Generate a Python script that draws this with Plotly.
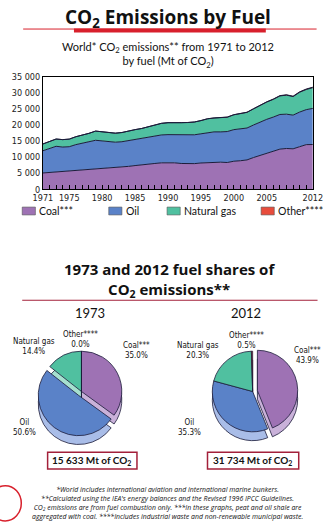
import plotly.graph_objects as go

# ---------------- data ----------------
years = list(range(1971, 2013))
coal = [5100, 5250, 5470, 5450, 5650, 5850, 6000, 6150, 6400, 6550,
        6600, 6700, 6900, 7150, 7400, 7550, 7800, 8050, 8250, 8350,
        8250, 8050, 8000, 8000, 8200, 8350, 8500, 8450, 8350, 8750,
        8900, 9150, 9900, 10550, 11200, 11800, 12500, 12700, 12600, 13250,
        13900, 13930]
oil = [6900, 7450, 7910, 7700, 7600, 8050, 8300, 8650, 8850, 8500,
       8150, 7950, 7900, 8000, 8000, 8150, 8300, 8550, 8650, 8650,
       8750, 8800, 8850, 8950, 9050, 9250, 9350, 9400, 9600, 9800,
       9850, 9900, 10100, 10450, 10550, 10650, 10750, 10650, 10450, 10750,
       10850, 11200]
gas = [2100, 2200, 2250, 2300, 2350, 2450, 2500, 2600, 2850, 2850,
       2850, 2800, 2850, 3050, 3150, 3200, 3300, 3450, 3600, 3700,
       3800, 3850, 3900, 3950, 4100, 4300, 4300, 4350, 4450, 4600,
       4700, 4850, 5000, 5150, 5350, 5500, 5750, 5900, 5750, 6150,
       6250, 6440]
other = [0, 0, 0, 0, 0, 0, 0, 0, 0, 0,
         0, 0, 0, 0, 0, 0, 0, 0, 0, 10,
         10, 20, 20, 20, 20, 30, 30, 30, 40, 40,
         40, 50, 60, 70, 80, 90, 100, 110, 120, 130,
         140, 160]

fuels = ["Coal***", "Oil", "Natural gas", "Other****"]
pie_labels = ["Coal***", "Oil", "Natural gas", "Other****"]
shares_1973 = [35.0, 50.6, 14.4, 0.0]
shares_2012 = [43.9, 35.3, 20.3, 0.5]
total_1973 = 15633
total_2012 = 31734

x_tick_years = [1971, 1975, 1980, 1985, 1990, 1995, 2000, 2005, 2012]
y_ticks = [0, 5000, 10000, 15000, 20000, 25000, 30000, 35000]

footnotes = [
    "*World includes international aviation and international marine bunkers.",
    "**Calculated using the IEA's energy balances and the Revised 1996 IPCC Guidelines.",
    "CO<sub>2</sub> emissions are from fuel combustion only. ***In these graphs, peat and oil shale are",
    "aggregated with coal. ****Includes industrial waste and non-renewable municipal waste.",
]

# ---------------- style ----------------
W, H = 336, 525
colors = ["#9e72b4", "#5a82c8", "#50c0a0", "#e84c3c"]
side_colors = ["#c9b1d9", "#a9bde8", "#a6e0cf", "#f2a59c"]
edge = "#1c1c3a"
red = "#d8202c"
maroon = "#a3203a"
FONT = "Liberation Sans Narrow, DejaVu Sans Condensed, Arial Narrow, sans-serif"
FONT2 = "Lato, Open Sans, sans-serif"
FONT3 = "Open Sans, Lato, sans-serif"


def px(x):
    return x / W


def py(y):
    return 1 - y / H


fig = go.Figure()

series = [coal, oil, gas, other]
for name, vals, col in zip(fuels, series, colors):
    fig.add_trace(go.Scatter(
        x=years, y=vals, name=name, stackgroup="one", mode="lines",
        line=dict(color=edge, width=1), fillcolor=col, showlegend=False,
        hoverinfo="x+y+name"))

fig.update_xaxes(
    domain=[px(35), px(322)], range=[1971, 2012],
    tickvals=x_tick_years, ticktext=[str(v) for v in x_tick_years],
    ticks="inside", ticklen=4, tickcolor="black",
    minor=dict(dtick=1, tick0=1971, ticks="inside", ticklen=4, tickcolor="black"),
    showline=True, linecolor="black", linewidth=1, mirror=True,
    showgrid=False, zeroline=False,
    tickfont=dict(family=FONT, size=9, color="#222"), anchor="y")
fig.update_yaxes(
    domain=[py(188), py(73)], range=[0, 35000],
    tickvals=y_ticks, ticktext=[f"{v:,}".replace(",", " ") for v in y_ticks],
    ticks="", showline=True, linecolor="black", linewidth=1, mirror=True,
    showgrid=False, zeroline=False,
    tickfont=dict(family=FONT, size=9, color="#222"), anchor="x")


# ---------------- pies (with a lighter "side" pie for depth) ----------------
def add_pie(shares, cx, cy, r, pulls, depth):
    for dy, cols in ((depth, side_colors), (0, colors)):
        y0 = cy + dy
        fig.add_trace(go.Pie(
            values=shares, labels=pie_labels, sort=False, direction="clockwise",
            rotation=0, pull=pulls, textinfo="none", showlegend=False,
            marker=dict(colors=cols, line=dict(color=edge, width=0.8)),
            domain=dict(x=[px(cx - r), px(cx + r)], y=[py(y0 + r), py(y0 - r)])))


add_pie(shares_1973, 76, 394, 48, [0, 0.12, 0, 0], 9)
add_pie(shares_2012, 258, 394, 48, [0.12, 0, 0, 0], 9)

# ---------------- annotations ----------------
ann = []


def text(x, y, t, size, family=FONT2, color="#111", xanchor="center"):
    ann.append(dict(x=px(x), y=py(y), xref="paper", yref="paper", text=t,
                    showarrow=False, xanchor=xanchor, yanchor="middle",
                    font=dict(family=family, size=size, color=color),
                    align="center", borderpad=0))


text(168, 13, "<b>CO<sub>2</sub> Emissions by Fuel</b>", 19, family=FONT3)
text(168, 51, "World* CO<sub>2</sub> emissions** from 1971 to 2012<br>by fuel (Mt of CO<sub>2</sub>)", 11)

# legend
leg_x = [13, 105, 167, 267]
shapes = []
for lx, name, col in zip(leg_x, fuels, colors):
    shapes.append(dict(type="rect", xref="paper", yref="paper",
                       x0=px(lx), x1=px(lx + 14), y0=py(214), y1=py(206),
                       fillcolor=col, line=dict(color="#555", width=0.6)))
    text(lx + 17, 210, name, 10.5, xanchor="left")

text(170, 280, "<b>1973 and 2012 fuel shares of<br>CO<sub>2</sub> emissions**</b>", 15, family=FONT3)

text(85, 314, "1973", 13)
text(251, 314, "2012", 13)

pos_1973 = [(134, 352), (15, 431), (26, 348), (75, 341)]
pos_2012 = [(316, 357), (191, 431), (200, 352), (251, 342)]
for (x, y), name, s in zip(pos_1973, pie_labels, shares_1973):
    text(x, y, f"{name}<br>{s:.1f}%", 8, family=FONT)
for (x, y), name, s in zip(pos_2012, pie_labels, shares_2012):
    text(x, y, f"{name}<br>{s:.1f}%", 8, family=FONT)

for cx, x0, x1, tot in ((87, 40, 135, total_1973), (258, 210, 307, total_2012)):
    shapes.append(dict(type="rect", xref="paper", yref="paper",
                       x0=px(x0), x1=px(x1), y0=py(473), y1=py(456),
                       line=dict(color=maroon, width=1.5), fillcolor="white"))
    text(cx, 464.5, f"<b>{tot:,} Mt of CO<sub>2</sub></b>".replace(",", " "), 10)

text(167, 508, "<i>" + "<br>".join(footnotes) + "</i>", 6.9, family=FONT3)

# decorative lines
shapes += [
    dict(type="line", xref="paper", yref="paper", x0=px(14), x1=px(326),
         y0=py(24.5), y1=py(24.5), line=dict(color=red, width=1)),
    dict(type="rect", xref="paper", yref="paper", x0=px(68), x1=px(272),
         y0=py(28), y1=py(24), fillcolor=red, line=dict(width=0)),
    dict(type="line", xref="paper", yref="paper", x0=px(13), x1=px(327),
         y0=py(301), y1=py(301), line=dict(color=maroon, width=1.2)),
    dict(type="circle", xref="paper", yref="paper", x0=px(-22), x1=px(12),
         y0=py(526), y1=py(490), line=dict(color=red, width=1.5)),
]

fig.update_layout(
    width=W, height=H, margin=dict(l=0, r=0, t=0, b=0),
    paper_bgcolor="white", plot_bgcolor="white",
    annotations=ann, shapes=shapes, showlegend=False,
    font=dict(family=FONT2, color="#111"))

fig.write_html("out.html")
